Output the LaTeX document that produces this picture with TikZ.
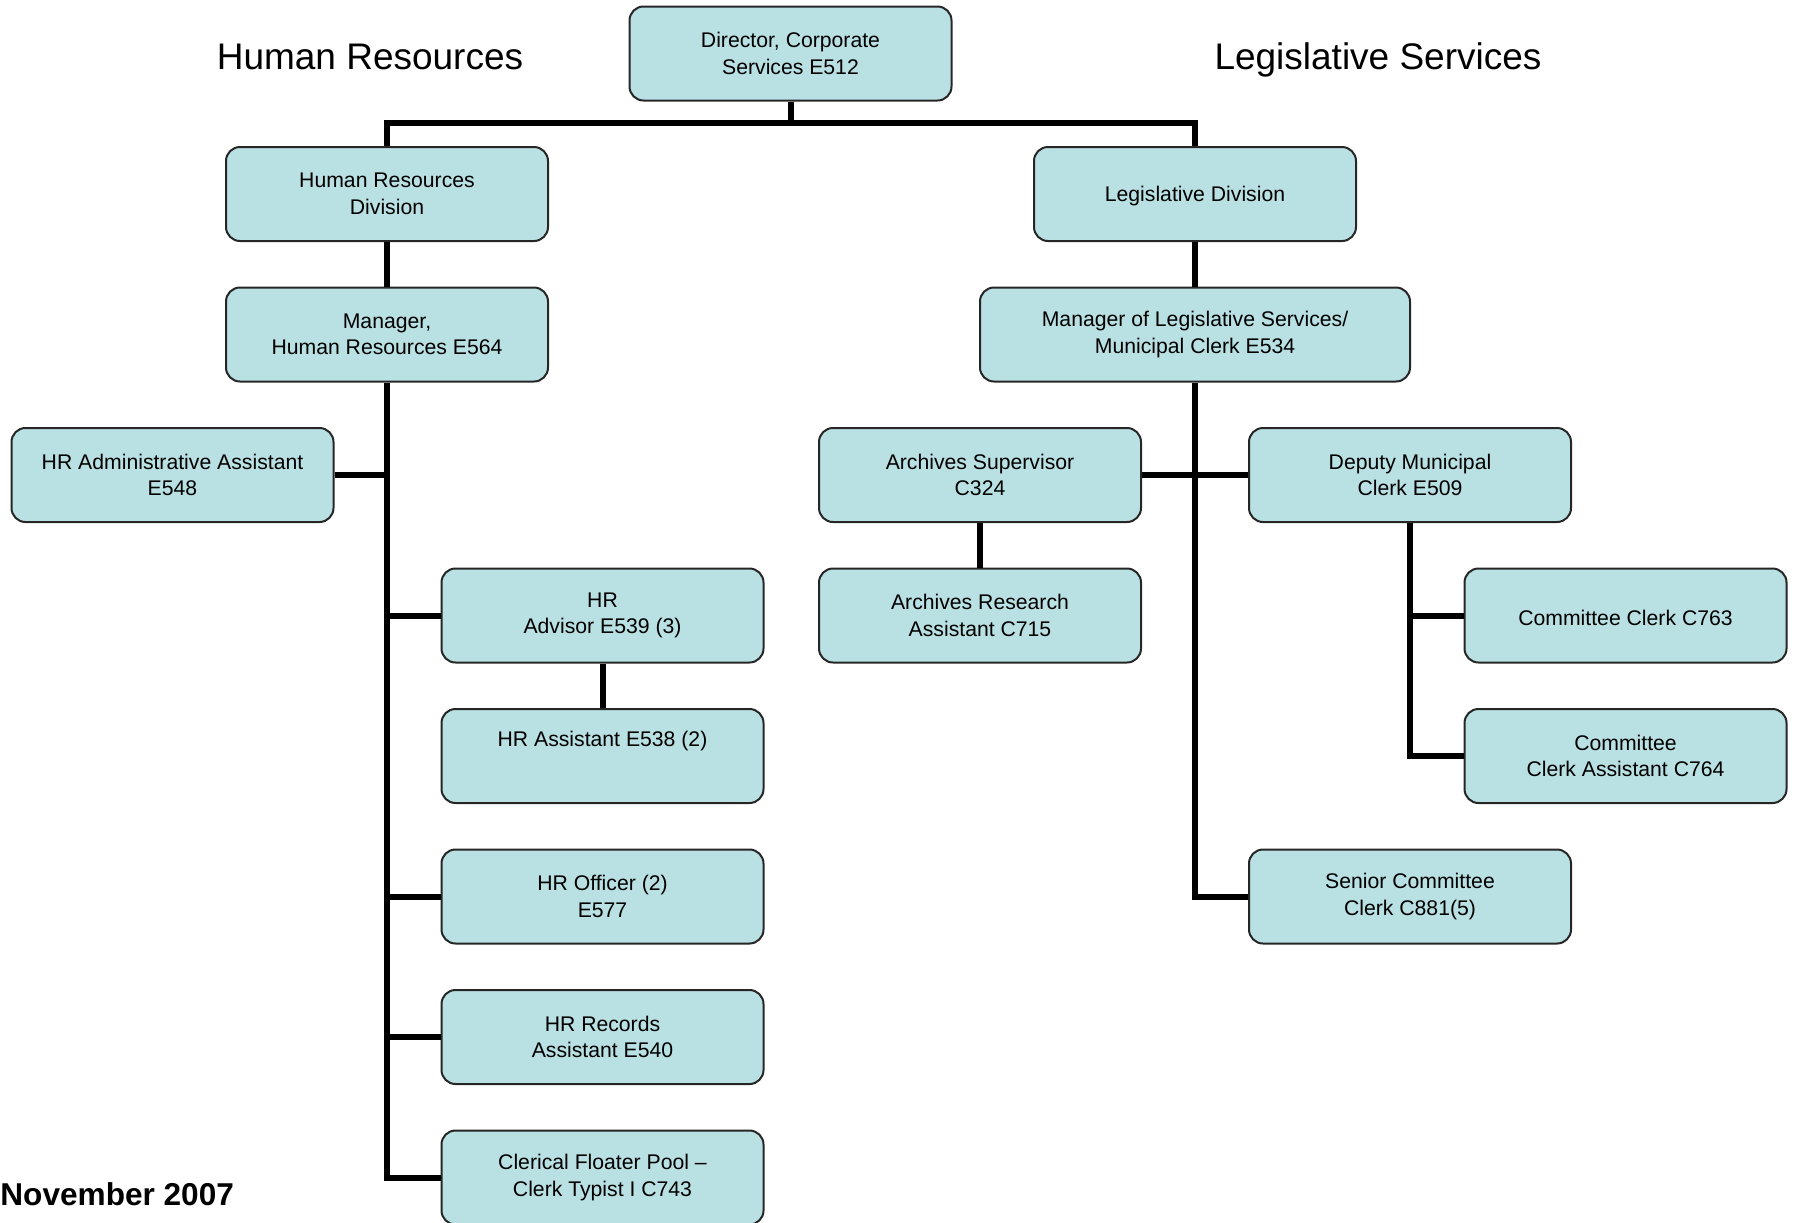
\documentclass[tikz,border=0pt]{standalone}
\usepackage{fontspec}
\setmainfont{Liberation Sans}
\definecolor{boxfill}{RGB}{185,224,226}
\newcommand\boxstrut{\rule{0pt}{9.6pt}}
\begin{document}
\begin{tikzpicture}[x=0.5pt,y=-0.5pt,
  box/.style={draw=black!85, line width=1pt, fill=boxfill, rounded corners=7pt,
    minimum width=161pt, minimum height=47pt, align=center, inner sep=0pt,
    font=\fontsize{10.6}{13.2}\selectfont,
    execute at begin node=\boxstrut},
  conn/.style={line width=3pt},
  title/.style={font=\fontsize{18.5}{22}\selectfont, anchor=base, inner sep=0pt}]
\useasboundingbox (0,0) rectangle (1798,1222);

\node[title] (t1) at (370,69) {Human Resources};
\node[title] (t2) at (1378,69) {Legislative Services};
\node[font=\fontsize{15.8}{18}\selectfont\bfseries, anchor=west, inner sep=0pt] (date) at (0,1194) {November 2007};

\node[box] (dir) at (790.5,53.5) {Director, Corporate\\Services E512};
\node[box] (hrdiv) at (387,194) {Human Resources\\Division};
\node[box] (hrman) at (387,334.5) {Manager,\\Human Resources E564};
\node[box] (hradm) at (172.5,475) {HR Administrative Assistant\\E548};
\node[box] (hradv) at (602.5,615.5) {HR\\Advisor E539 (3)};
\node[box] (hrass) at (602.5,756) {HR Assistant E538 (2)\\\strut};
\node[box] (hroff) at (602.5,896.5) {HR Officer (2)\\E577};
\node[box] (hrrec) at (602.5,1037) {HR Records\\Assistant E540};
\node[box] (cler) at (602.5,1177.5) {Clerical Floater Pool –\\Clerk Typist I C743};

\node[box] (legdiv) at (1195,194) {Legislative Division};
\node[box, minimum width=215pt] (legman) at (1195,334.5) {Manager of Legislative Services/\\Municipal Clerk E534};
\node[box] (arch) at (980,475) {Archives Supervisor\\C324};
\node[box] (archr) at (980,615.5) {Archives Research\\Assistant C715};
\node[box] (dep) at (1410,475) {Deputy Municipal\\Clerk E509};
\node[box] (cc) at (1625.5,615.5) {Committee Clerk C763};
\node[box] (cca) at (1625.5,756) {Committee\\Clerk Assistant C764};
\node[box] (scc) at (1410,896.5) {Senior Committee\\Clerk C881(5)};

\coordinate (bar) at (790.5,122.7);
\draw[conn] (dir.south) -- (dir.south |- bar);
\draw[conn] (hrdiv.north) -- (hrdiv.north |- bar) -- (legdiv.north |- bar) -- (legdiv.north);

% HR
\draw[conn] (hrdiv.south) -- (hrman.north);
\draw[conn] (hrman.south) -- (hrman.south |- cler.west) -- (cler.west);
\draw[conn] (hradm.east) -- (hradm.east -| hrman.south);
\draw[conn] (hradv.west) -- (hradv.west -| hrman.south);
\draw[conn] (hroff.west) -- (hroff.west -| hrman.south);
\draw[conn] (hrrec.west) -- (hrrec.west -| hrman.south);
\draw[conn] (hradv.south) -- (hrass.north);

% Legislative
\draw[conn] (legdiv.south) -- (legman.north);
\draw[conn] (legman.south) -- (legman.south |- scc.west) -- (scc.west);
\draw[conn] (arch.east) -- (dep.west);
\draw[conn] (arch.south) -- (archr.north);
\draw[conn] (dep.south) -- (dep.south |- cca.west) -- (cca.west);
\draw[conn] (cc.west) -- (cc.west -| dep.south);
\end{tikzpicture}
\end{document}
